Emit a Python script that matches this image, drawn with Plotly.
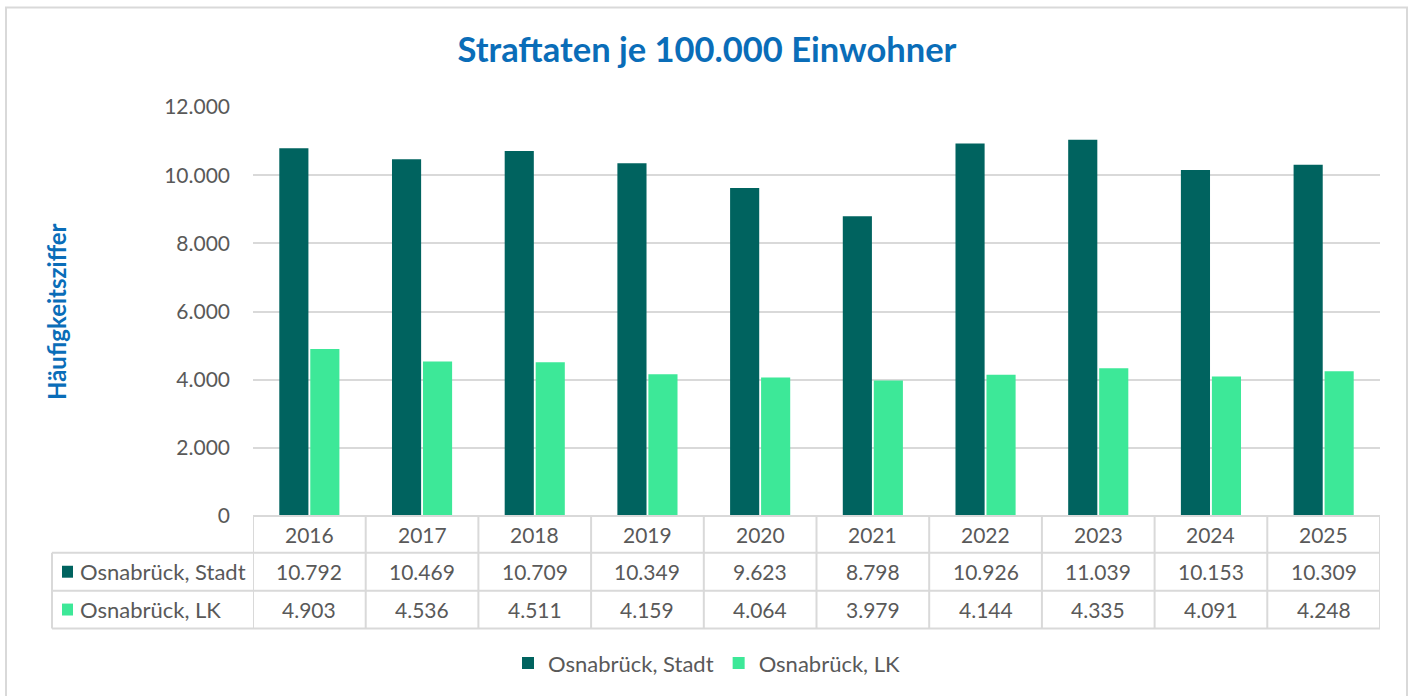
import plotly.graph_objects as go

years = ["2016", "2017", "2018", "2019", "2020", "2021", "2022", "2023", "2024", "2025"]
stadt = [10792, 10469, 10709, 10349, 9623, 8798, 10926, 11039, 10153, 10309]
lk = [4903, 4536, 4511, 4159, 4064, 3979, 4144, 4335, 4091, 4248]
series_names = ["Osnabrück, Stadt", "Osnabrück, LK"]
colors = ["#00635F", "#3DE898"]
ytick_vals = [0, 2000, 4000, 6000, 8000, 10000, 12000]

W, H = 1410, 696
L, R, T, B = 253, 1380, 107, 518
FONT = "Lato"
GRAY = "#595959"
LINE = "#D9D9D9"
BLUE = "#0A6DB8"


def xp(px):
    return (px - L) / (R - L)


def yp(py):
    return (B - py) / (B - T)


def fmt(v):
    return f"{v:,}".replace(",", ".")


fig = go.Figure()
for name, vals, col in zip(series_names, [stadt, lk], colors):
    fig.add_trace(go.Bar(x=list(range(len(years))), y=vals, name=name,
                         marker=dict(color=col, line=dict(width=0))))

shapes = []
# outer frame
shapes.append(dict(type="rect", xref="paper", yref="paper", x0=xp(6), x1=xp(1407), y0=yp(702), y1=yp(7),
                   line=dict(color=LINE, width=2), fillcolor="rgba(0,0,0,0)", layer="below"))
# table horizontal lines
shapes.append(dict(type="line", xref="paper", yref="paper", x0=0, x1=1, y0=0, y1=0, line=dict(color=LINE, width=2)))
for py in [555, 593, 631]:
    shapes.append(dict(type="line", xref="paper", yref="paper", x0=xp(52), x1=1, y0=yp(py), y1=yp(py),
                       line=dict(color=LINE, width=2)))
# table vertical lines
shapes.append(dict(type="line", xref="paper", yref="paper", x0=xp(52), x1=xp(52), y0=yp(555), y1=yp(631),
                   line=dict(color=LINE, width=2)))
for i in range(len(years) + 1):
    shapes.append(dict(type="line", xref="x", yref="paper", x0=i - 0.5, x1=i - 0.5, y0=yp(518), y1=yp(631),
                       line=dict(color=LINE, width=2)))
# legend keys in table
for py, col in zip([574, 612], colors):
    shapes.append(dict(type="rect", xref="paper", yref="paper", x0=xp(62), x1=xp(73), y0=yp(py + 6), y1=yp(py - 6),
                       line=dict(width=0), fillcolor=col))

annotations = []
cell_font = dict(family=FONT, size=21, color=GRAY)
for i, y in enumerate(years):
    for py, txt in [(537, y), (574, fmt(stadt[i])), (612, fmt(lk[i]))]:
        annotations.append(dict(x=i, y=yp(py), xref="x", yref="paper", text=txt, showarrow=False,
                                xanchor="center", yanchor="middle", font=cell_font))
for py, name in zip([574, 612], series_names):
    annotations.append(dict(x=xp(78), y=yp(py), xref="paper", yref="paper", text=name, showarrow=False,
                            xanchor="left", yanchor="middle", font=dict(family=FONT, size=22, color=GRAY)))
# axis title
annotations.append(dict(x=xp(57), y=yp(313), xref="paper", yref="paper", text="<b>Häufigkeitsziffer</b>",
                        showarrow=False, textangle=-90, xanchor="center", yanchor="middle",
                        font=dict(family=FONT, size=24, color=BLUE)))

fig.update_layout(
    width=W, height=H,
    margin=dict(l=L, r=W - R, t=T, b=H - B, pad=0),
    paper_bgcolor="white", plot_bgcolor="white",
    title=dict(text="<b>Straftaten je 100.000 Einwohner</b>", xref="container", x=707 / W, xanchor="center",
               yref="container", y=1 - 50 / H, yanchor="middle", font=dict(family=FONT, size=34.5, color=BLUE)),
    barmode="group", bargap=0.45, bargroupgap=0.06,
    showlegend=True,
    legend=dict(orientation="h", x=xp(707), xanchor="center", y=yp(666), yanchor="middle",
                font=dict(family=FONT, size=22, color=GRAY), itemwidth=30),
    xaxis=dict(range=[-0.5, 9.5], showticklabels=False, showgrid=False, ticks="",
               showline=False, zeroline=False),
    yaxis=dict(range=[0, 12000], tickvals=ytick_vals, ticktext=[fmt(v) for v in ytick_vals],
               showgrid=True, gridcolor=LINE, gridwidth=2, zeroline=False, ticks="", showline=False,
               ticklabelstandoff=22, tickfont=dict(family=FONT, size=21, color=GRAY)),
    shapes=shapes, annotations=annotations,
)

fig.write_html("out.html", config={"displayModeBar": False},
               post_script="document.body.style.margin='0';document.documentElement.style.overflow='hidden';")
